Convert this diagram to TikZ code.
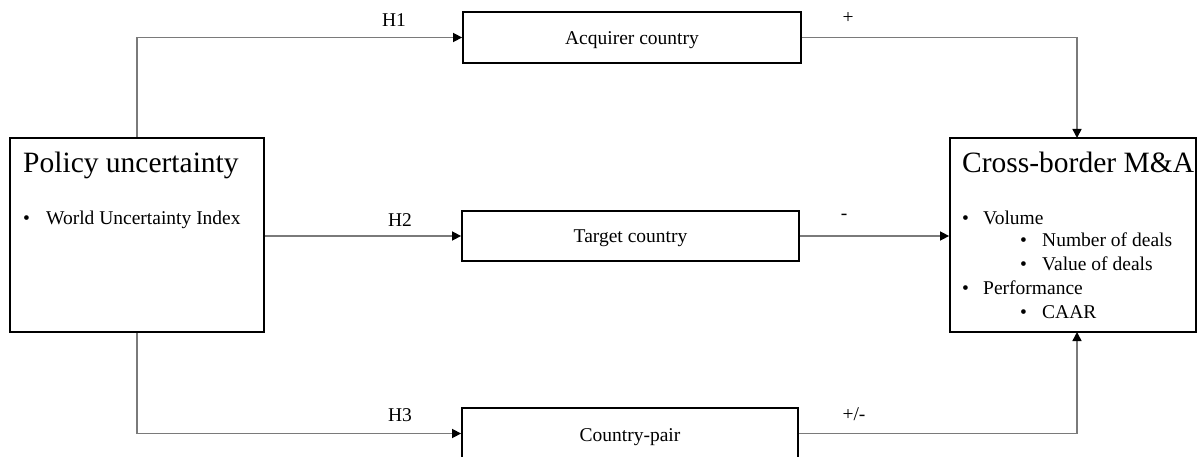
\documentclass[tikz,border=0pt]{standalone}
\usepackage{fontspec}
\setmainfont{Liberation Serif}
\usetikzlibrary{arrows.meta,calc}
\begin{document}
\begin{tikzpicture}[x=1pt,y=-1pt,
  box/.style={draw=black,line width=1.8pt,inner sep=0pt,fill=white},
  conn/.style={draw=black!52,line width=1.5pt,-{Triangle[length=9pt,width=9pt,fill=black,color=black]}},
  lbl/.style={inner sep=0pt,font=\fontsize{19.5}{22}\selectfont},
  btxt/.style={inner sep=0pt,anchor=base,font=\fontsize{19.5}{22}\selectfont},
  big/.style={inner sep=0pt,anchor=base west,font=\fontsize{29.5}{34}\selectfont},
  item/.style={inner sep=0pt,anchor=base west,font=\fontsize{19.5}{22}\selectfont}]
\useasboundingbox (0,0) rectangle (1198,457);
\clip (0,0) rectangle (1198,457);
% boxes
\node[box,minimum width=254pt,minimum height=194pt] (policy) at (137,235) {};
\node[box,minimum width=246pt,minimum height=194pt] (mna) at (1073,235) {};
\node[box,minimum width=338pt,minimum height=51pt] (acq) at (632,37.5) {};
\node[box,minimum width=337pt,minimum height=50pt] (tgt) at (630.5,236) {};
\node[box,minimum width=336pt,minimum height=51pt] (pair) at (630,433.5) {};
\node[btxt] (acqt) at (632,44.5) {Acquirer country};
\node[btxt] (tgtt) at (630.5,242.5) {Target country};
\node[btxt] (pairt) at (630,441) {Country-pair};
% texts in policy box
\node[big] (ptitle) at (23,173) {Policy uncertainty};
\node[item] (pb1) at (23,224) {•};
\node[item] (pt1) at (46,224) {World Uncertainty Index};
% texts in M&A box
\node[big] (mtitle) at (962,173) {Cross-border M\&A};
\node[item] (mb1) at (962,224) {•};
\node[item] (mt1) at (983,224) {Volume};
\node[item] (mb2) at (1020,246) {•};
\node[item] (mt2) at (1042,246) {Number of deals};
\node[item] (mb3) at (1020,270) {•};
\node[item] (mt3) at (1042,270) {Value of deals};
\node[item] (mb4) at (962,294) {•};
\node[item] (mt4) at (983,294) {Performance};
\node[item] (mb5) at (1020,318) {•};
\node[item] (mt5) at (1042,318) {CAAR};
% connector coordinates
\coordinate (mtop) at (1077,138);
\coordinate (mbot) at (1077,332);
% connectors
\draw[conn] (policy.north) |- (acq.west);
\draw[conn] (policy.east |- tgt.west) -- (tgt.west);
\draw[conn] (policy.south) |- (pair.west);
\draw[conn] (acq.east) -| (mtop);
\draw[conn] (tgt.east) -- (tgt.east -| mna.west);
\draw[conn] (pair.east) -| (mbot);
% labels
\node[lbl] (h1) at (394,20) {H1};
\node[lbl] (h2) at (400,220) {H2};
\node[lbl] (h3) at (400,415) {H3};
\node[lbl] (s1) at (848,18) {+};
\node[lbl] (s2) at (844,217) {-};
\node[lbl] (s3) at (854,414) {+/-};
\end{tikzpicture}
\end{document}
